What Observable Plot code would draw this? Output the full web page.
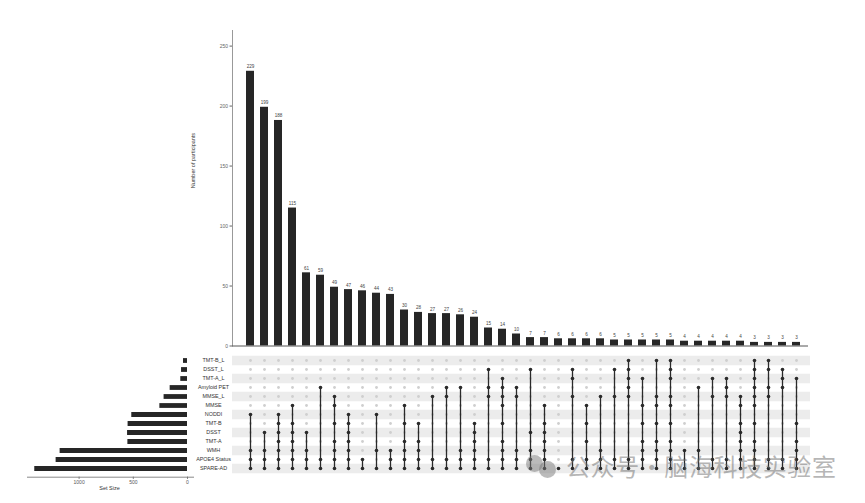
<!DOCTYPE html>
<html><head><meta charset="utf-8">
<script src="https://cdn.jsdelivr.net/npm/d3@7"></script>
<script src="https://cdn.jsdelivr.net/npm/@observablehq/plot@0.6"></script>
<style>
html,body{margin:0;padding:0;background:#fff;}
#wrap{position:relative;width:865px;height:503px;overflow:hidden;font-family:"Liberation Sans",Arial,sans-serif;}
#wrap svg{position:absolute;left:0;top:0;}
.wm{position:absolute;font-family:"Noto Sans CJK SC",sans-serif;font-size:24px;line-height:24px;color:rgba(110,110,110,0.5);white-space:pre;letter-spacing:0.6px;word-spacing:-6px;}
.bub{position:absolute;border-radius:50%;background:rgba(120,120,120,0.5);}
</style></head><body><div id="wrap"></div>
<script>
// ---- data ----
const setNames = ["TMT-B_L","DSST_L","TMT-A_L","Amyloid PET","MMSE_L","MMSE","NODDI","TMT-B","DSST","TMT-A","WMH","APOE4 Status","SPARE-AD"];
const setSizes = [37,55,62,160,216,255,514,548,553,550,1175,1212,1409];
const intersectionCounts = [229,199,188,115,61,59,49,47,46,44,43,30,28,27,27,26,24,15,14,10,7,7,6,6,6,6,5,5,5,5,5,4,4,4,4,4,3,3,3,3];
const intersectionMembers = [
 [6,10,11,12],[8,10,11,12],[6,7,8,9,10,11,12],[5,7,8,9,10,11,12],[8,10,11,12],
 [3,11,12],[4,5,7,9,10,11,12],[6,7,8,9,10,11,12],[11,12],[6,10,12],
 [10,11,12],[5,7,9,10,11,12],[7,9,10,11,12],[4,11,12],[3,4,11,12],
 [3,10,11,12],[7,8,9,10,11,12],[1,3,4,11,12],[2,3,4,5,7,9,10,11,12],[3,4,10,11,12],
 [1,8,10,11,12],[5,7,8,9,10,11,12],[12],[1,2,4,11,12],[5,7,9,11,12],
 [4,10,11,12],[1,4,11,12],[0,1,2,3,4,11,12],[2,5,7,9,10,11,12],[0,4,5,7,9,10,11,12],
 [0,1,2,4,5,7,9,10,11,12],[10,12],[3,10,12],[2,4,11,12],[2,3,4,11,12],
 [4,5,7,8,9,10,11,12],[0,1,2,3,4,5,7,9,10,11,12],[0,1,3,4,11,12],[1,2,3,11,12],[2,7,9,10,11,12]
];
const countTicks = [0,50,100,150,200,250];
const setSizeTicks = [0,500,1000];
const yLabel = "Number of participants";
const xLabel = "Set Size";
const watermark = "公众号 · 脑海科技实验室";

// ---- derived tables ----
const cols = d3.range(intersectionCounts.length);
const bars = cols.map(i => ({i, count: intersectionCounts[i]}));
const cells = [];
cols.forEach(i => setNames.forEach((s, r) => cells.push({i, set: s, on: intersectionMembers[i].includes(r)})));
const links = cols.map(i => ({i, top: setNames[d3.min(intersectionMembers[i])], bottom: setNames[d3.max(intersectionMembers[i])]}));
const sets = setNames.map((s, r) => ({set: s, size: setSizes[r], r}));
const stripes = setNames.filter((s, r) => r % 2 === 0);

const W = 865, H = 503;
const xBand = {type: "band", domain: cols, range: [238.9, 806.1], paddingInner: 0.44, paddingOuter: 0.22};
const xPoint = {type: "point", domain: cols, range: [246, 799], padding: 0};
const yRows = {type: "point", domain: setNames, range: [357, 471], padding: 0};
const font = "Liberation Sans, Arial, sans-serif";
const wrap = document.getElementById("wrap");

// ---- top: intersection sizes ----
const topPlot = Plot.plot({
  width: W, height: 352, marginLeft: 232, marginRight: 57, marginTop: 30, marginBottom: 6.5,
  style: {background: "transparent", fontFamily: font},
  x: {...xBand, axis: null},
  y: {domain: [0, 263], range: [345.5, 30]},
  marks: [
    Plot.barY(bars, {x: "i", y: "count", fill: "#262626"}),
    Plot.text(bars, {x: "i", y: "count", text: "count", dy: -4.5, fontSize: 4.6, fill: "#444"}),
    Plot.axisY({ticks: countTicks, tickSize: 2.5, tickPadding: 2, fontSize: 5, color: "#666", label: null}),
    Plot.frame({anchor: "left", stroke: "#999"}),
    Plot.ruleY([0], {stroke: "#555", strokeWidth: 1}),
    Plot.text([yLabel], {frameAnchor: "left", dx: -39, rotate: -90, text: d => d, fontSize: 5.5, fill: "#333"})
  ]
});
wrap.appendChild(topPlot);

// ---- bottom-right: matrix ----
const matrixPlot = Plot.plot({
  width: W, height: H, marginLeft: 232, marginRight: 55, marginTop: 352, marginBottom: 27,
  style: {background: "transparent", fontFamily: font},
  x: {...xPoint, axis: null},
  y: {...yRows, axis: null},
  marks: [
    Plot.ruleY(stripes, {y: d => d, stroke: "#ececec", strokeWidth: 9.5}),
    Plot.dot(cells.filter(d => !d.on), {x: "i", y: "set", r: 1.4, fill: "#cfcfcf"}),
    Plot.ruleX(links, {x: "i", y1: "top", y2: "bottom", stroke: "#2a2a2a", strokeWidth: 1.3}),
    Plot.dot(cells.filter(d => d.on), {x: "i", y: "set", r: 1.8, fill: "#2a2a2a"})
  ]
});
wrap.appendChild(matrixPlot);

// ---- bottom-left: set sizes ----
const sizePlot = Plot.plot({
  width: W, height: H, marginLeft: 27, marginRight: 672, marginTop: 352, marginBottom: 26.3,
  style: {background: "transparent", fontFamily: font},
  x: {domain: [1476, 0], range: [27, 187]},
  y: {...yRows, axis: null},
  marks: [
    Plot.ruleY(sets, {y: "set", x1: 0, x2: "size", stroke: "#262626", strokeWidth: 4.8}),
    Plot.text(sets, {y: "set", text: "set", frameAnchor: "right", dx: 20, textAnchor: "middle", fontSize: 5.4, fill: "#333"}),
    Plot.axisX({ticks: setSizeTicks, tickFormat: d => String(d), tickSize: 2, tickPadding: 1.5, fontSize: 5, color: "#555", label: null}),
    Plot.frame({anchor: "bottom", stroke: "#888"}),
    Plot.text([xLabel], {x: () => 720, frameAnchor: "bottom", dy: 12.5, text: d => d, fontSize: 5.5, fill: "#333"})
  ]
});
wrap.appendChild(sizePlot);

// ---- watermark overlay ----
[[526,455,17],[539,461,17]].forEach(([x,y,s]) => {
  const b = document.createElement("div");
  b.className = "bub";
  Object.assign(b.style, {left: x + "px", top: y + "px", width: s + "px", height: s + "px"});
  wrap.appendChild(b);
});
const wm = document.createElement("div");
wm.className = "wm"; wm.textContent = watermark;
wm.style.left = "566px"; wm.style.top = "454px";
wrap.appendChild(wm);
</script></body></html>
